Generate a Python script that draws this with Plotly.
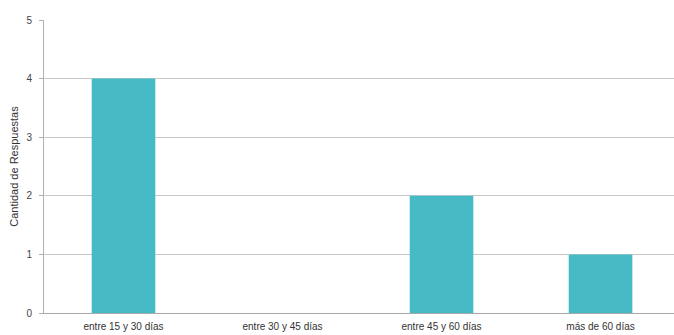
import plotly.graph_objects as go

categorias = ["entre 15 y 30 días", "entre 30 y 45 días", "entre 45 y 60 días", "más de 60 días"]
respuestas = [4, 0, 2, 1]
y_ticks = [0, 1, 2, 3, 4, 5]

fig = go.Figure(
    go.Bar(
        x=categorias,
        y=respuestas,
        marker=dict(color="#46BBC6", line=dict(width=0)),
        width=0.4,
    )
)

fig.update_layout(
    width=674,
    height=335,
    margin=dict(l=44, r=0, t=20, b=22),
    paper_bgcolor="white",
    plot_bgcolor="white",
    font=dict(family="Liberation Sans, Arial, sans-serif", size=10, color="#444"),
    showlegend=False,
    bargap=0.6,
)

fig.update_xaxes(
    type="category",
    range=[-0.5, 3.462],
    showgrid=False,
    showline=True,
    linecolor="#a8a8a8",
    linewidth=1,
    ticks="",
    ticklabelstandoff=4,
    tickfont=dict(size=10, color="#333"),
)

fig.update_yaxes(
    range=[0, 5],
    tickvals=y_ticks,
    showgrid=True,
    gridcolor="#c8c8c8",
    gridwidth=1,
    zeroline=False,
    showline=True,
    linecolor="#b0b0b0",
    linewidth=1,
    ticks="outside",
    ticklen=4,
    tickcolor="#b0b0b0",
    ticklabelstandoff=5,
    tickfont=dict(size=10, color="#444"),
    title=dict(text="Cantidad de Respuestas", font=dict(size=11, color="#333"), standoff=5),
)

fig.write_html("out.html")
